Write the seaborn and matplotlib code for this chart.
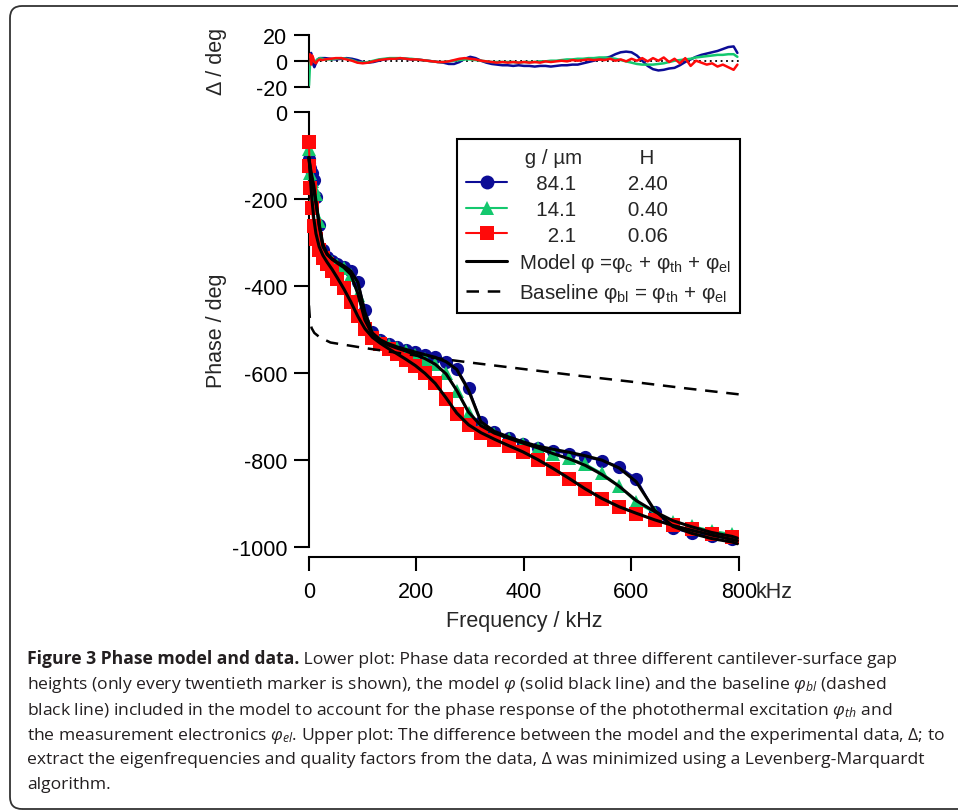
import matplotlib
matplotlib.use('Agg')
import matplotlib.pyplot as plt
import seaborn as sns
from matplotlib.lines import Line2D
from matplotlib.patches import FancyBboxPatch

### phase data, only every twentieth marker (kHz / deg)
freq = [0, 1, 2.5, 5, 9, 13, 19, 26, 34, 43, 53, 65, 78, 91, 104, 118, 133, 148, 164, 181, 198,
        216, 235, 255, 275, 297, 320, 345, 372, 398, 426, 454, 484, 514, 545, 577, 609, 643,
        677, 712, 749, 787]

phase_84 = [-108, -118, -130, -140, -157, -195, -260, -318, -333, -343, -349, -356, -366, -390,
            -455, -507, -525, -533, -540, -547, -552, -558, -564, -574, -590, -635, -712, -736,
            -750, -762, -772, -779, -785, -793, -801, -815, -843, -918, -956, -968, -975, -980]
phase_14 = [-85, -120, -140, -160, -175, -190, -250, -322, -335, -345, -352, -360, -375, -420,
            -475, -512, -528, -536, -543, -550, -558, -567, -580, -600, -642, -692, -722, -739,
            -751, -762, -773, -786, -796, -809, -830, -859, -897, -921, -941, -951, -962, -970]
phase_2 = [-70, -125, -175, -222, -262, -292, -317, -335, -350, -366, -385, -405, -438, -470,
           -500, -520, -533, -545, -557, -570, -583, -600, -622, -660, -695, -720, -738, -753,
           -768, -782, -800, -820, -843, -867, -889, -908, -923, -938, -950, -959, -970, -977]

### model curves
model_freq = freq + [797]
model_84 = [-105, -115, -128, -145, -170, -205, -262, -310, -328, -338, -346, -354, -366, -392,
            -460, -508, -524, -533, -540, -546, -552, -558, -564, -574, -592, -640, -712, -734,
            -747, -758, -768, -775, -782, -790, -800, -818, -850, -915, -952, -968, -980, -988, -992]
model_14 = [-105, -118, -135, -155, -180, -210, -258, -305, -327, -339, -348, -358, -374, -418,
            -478, -512, -527, -536, -543, -550, -558, -567, -580, -602, -640, -690, -721, -738,
            -750, -761, -772, -785, -797, -812, -833, -860, -893, -918, -939, -953, -966, -975, -979]
model_2 = [-105, -120, -150, -195, -245, -280, -310, -330, -346, -362, -382, -407, -437, -470,
           -498, -518, -532, -544, -556, -569, -583, -601, -624, -657, -692, -719, -737, -752,
           -767, -781, -799, -819, -842, -866, -888, -907, -922, -937, -950, -961, -972, -982, -985]

### baseline
base_freq = [0, 2, 5, 10, 20, 40, 100, 200, 300, 400, 500, 600, 700, 800]
base_phase = [-445, -480, -497, -508, -518, -530, -542, -560, -576, -591, -606, -620, -635, -649]

### residuals (data - model)
res_freq = [0, 2, 4, 6, 8, 10, 13, 16, 20, 25, 30, 40, 50, 60, 70, 80, 90, 100, 110, 120, 130,
            140, 150, 160, 170, 180, 190, 200, 210, 220, 230, 240, 250, 260, 270, 280, 290, 300,
            310, 320, 330, 340, 350, 360, 370, 380, 390, 400, 410, 420, 430, 440, 450, 460, 470,
            480, 490, 500, 510, 520, 530, 540, 550, 560, 570, 580, 590, 600, 610, 620, 630, 640,
            650, 660, 670, 680, 690, 700, 710, 720, 730, 740, 750, 760, 770, 780, 790, 797]
res_84 = [0, 3, 6, 2, -3, -5, -2, 1, 2, 2, 2, 1.5, 1, 1.5, 2, 1.5, 0.5, -1, -1.5, -1, 0, 1, 1.5,
          1.5, 1.5, 1.5, 1, 1, 0.5, 0, -0.5, -1, -1.5, -2.5, -2.5, -1, 1.5, 3, 2, 0, -1.5, -2.5,
          -3, -3.5, -3.5, -4, -3.5, -4, -4, -4.5, -4, -4, -4.5, -4, -3.5, -3.5, -3, -3, -2, -1, 0,
          1, 2, 3, 5, 6.5, 7, 6.5, 4, 0, -4, -6.5, -7.5, -7, -6, -5.5, -3.5, -1, 1, 3, 4.5, 5.5,
          6.5, 7.5, 9, 10.5, 11, 6]
res_14 = [-19, -3, 2, 1, 0, -1, 0, 1, 2, 1.5, 1, 1, 1.5, 2, 1.5, 0.5, -1, -1.5, -1, 0, 1, 1.5, 2,
          2, 2, 1.5, 1.5, 1, 0.5, 0, -0.5, -1, -1, -0.5, 0, 0.5, 1, 1, 0.5, 0, -0.5, -1, -1, -1,
          -1, -1, -1.5, -1, -1, -1, -0.5, -0.5, 0, 0, 0.5, 1, 1, 1.5, 1.5, 2, 2, 2.5, 2.5, 2, 1.5,
          0.5, -0.5, -1.5, -2.5, -3, -3, -3, -2.5, -2, -1, 0, 0.5, 1, 1.5, 2.5, 3, 3.5, 4, 4.5,
          4.5, 5, 5, 3]
res_2 = [3, 5, -3, 4, 2, -1, -2, 0, 1, 0.5, 1, 1.5, 2, 2, 1, 0, -1.5, -2, -1.5, -0.5, 0.5, 1, 1.5,
         1.5, 2, 1.5, 1, 1, 0.5, 0, -0.5, -1, -1, -0.5, 0.5, 1.5, 2, 1.5, 1, 0, -0.5, -1, -1.5,
         -1, -1.5, -1, -1.5, -1, -1.5, -1, -1.5, -0.5, -1, -0.5, 0, -0.5, 0.5, 0, 0.5, 1, 0.5, 1,
         0.5, 1.5, 0, 1, -0.5, 1.5, 0, 2, -0.5, 2, 0, 2.5, -1, 1.5, -2, 2, -4, 0, -1.5, -3, -2,
         -4.5, -3, -5, -7, -3]

gaps = ['84.1', '14.1', '2.1']
hvals = ['2.40', '0.40', '0.06']
colors = ['#0c0c96', '#14c86e', '#ff0a0a']
markers = ['o', '^', 's']

sns.set_style('ticks')
plt.rcParams['font.family'] = ['Liberation Sans', 'DejaVu Sans']
plt.rcParams['axes.unicode_minus'] = False
plt.rcParams['mathtext.fontset'] = 'custom'
plt.rcParams['mathtext.rm'] = 'Open Sans'
plt.rcParams['mathtext.it'] = 'Open Sans:italic'
plt.rcParams['axes.linewidth'] = 1.5
plt.rcParams['axes.edgecolor'] = 'black'
plt.rcParams['xtick.color'] = 'black'
plt.rcParams['ytick.color'] = 'black'

FS = 15.5
fig = plt.figure(figsize=(9.58, 8.12), dpi=100)
ax_top = fig.add_axes([0.3225, 0.8920, 0.4489, 0.0640])
ax = fig.add_axes([0.3225, 0.3248, 0.4489, 0.5365])

## lower plot
for ph, c, m, z in zip([phase_84, phase_14, phase_2], colors, markers, [2, 3, 4]):
    sns.lineplot(x=freq, y=ph, color=c, marker=m, markersize=9.5, markeredgewidth=0,
                 lw=1.5, ax=ax, sort=False, estimator=None, clip_on=False, zorder=z)
for mod in [model_84, model_14, model_2]:
    sns.lineplot(x=model_freq, y=mod, color='black', lw=2.2, ax=ax, sort=False,
                 estimator=None, clip_on=False, zorder=6)
sns.lineplot(x=base_freq, y=base_phase, color='black', lw=1.8, linestyle=(0, (5, 3.5)),
             ax=ax, sort=False, estimator=None, zorder=6)

ax.set_xlim(0, 800)
ax.set_ylim(-1000, 0)
ax.set_xticks([0, 200, 400, 600, 800])
ax.set_xticklabels(['0', '200', '400', '600', '800'])
ax.set_yticks([0, -200, -400, -600, -800, -1000])
ax.set_yticklabels(['0', '-200', '-400', '-600', '-800', '-1000'])
ax.tick_params(axis='y', length=10.5, width=1.5, pad=5, labelsize=FS)
ax.tick_params(axis='x', length=10, width=1.5, pad=7, labelsize=FS)
sns.despine(ax=ax)
ax.spines['bottom'].set_position(('outward', 7))
ax.set_xlabel('Frequency / kHz', fontsize=FS, labelpad=6)
ax.set_ylabel('Phase / deg', fontsize=FS)
ax.yaxis.set_label_coords(-0.19, 0.5)
ax.annotate('kHz', xy=(800, 0), xycoords=('data', 'axes fraction'), xytext=(12, -31.5),
            textcoords='offset points', ha='left', va='center', fontsize=FS)

handles = [Line2D([], [], color='none')]
labels = [' g / µm          H']
for c, m, g, h in zip(colors, markers, gaps, hvals):
    handles.append(Line2D([], [], color=c, marker=m, markersize=10, lw=1.5, markeredgewidth=0))
    labels.append(' ' * (3 + 2 * (4 - len(g))) + g + ' ' * 9 + h)
handles.append(Line2D([], [], color='black', lw=2.2))
labels.append(r'Model φ =$\mathregular{φ_c}$ + $\mathregular{φ_{th}}$ + $\mathregular{φ_{el}}$')
handles.append(Line2D([], [], color='black', lw=1.8, linestyle=(0, (5, 3.5))))
labels.append(r'Baseline $\mathregular{φ_{bl}}$ = $\mathregular{φ_{th}}$ + $\mathregular{φ_{el}}$')
leg = ax.legend(handles, labels, loc='upper left', bbox_to_anchor=(0.344, 0.937),
                frameon=True, fancybox=False, edgecolor='black', framealpha=1,
                borderpad=0.45, handlelength=2.0, handletextpad=0.55, labelspacing=0.33,
                borderaxespad=0, prop={'size': 14.8})
leg.get_frame().set_linewidth(1.5)

## upper plot: residuals
ax_top.axhline(0, color='black', lw=1.3, linestyle=(0, (1, 2)), zorder=0)
for r, c, z in zip([res_84, res_14, res_2], colors, [2, 3, 4]):
    sns.lineplot(x=res_freq, y=r, color=c, lw=1.8, ax=ax_top, sort=False,
                 estimator=None, zorder=z)
ax_top.set_xlim(0, 800)
ax_top.set_ylim(-20, 20)
ax_top.set_yticks([20, 0, -20])
ax_top.set_yticklabels(['20', '0', '-20'])
ax_top.set_xticks([])
ax_top.tick_params(axis='y', length=10.5, width=1.5, pad=5, labelsize=FS)
sns.despine(ax=ax_top, bottom=True)
ax_top.set_xlabel('')
ax_top.set_ylabel('Δ / deg', fontsize=FS)
ax_top.yaxis.set_label_coords(-0.19, 0.5)

## frame and caption
frame = FancyBboxPatch((0.10, 0.02), 10.0, 8.03, boxstyle='round,pad=0,rounding_size=0.12',
                       transform=fig.dpi_scale_trans, fill=False, lw=1.3, ec='#333333')
fig.add_artist(frame)

cap_kw = dict(fontsize=12.6, family='Open Sans', color='#231f20', va='baseline', ha='left')
x0 = 27 / 958
base_y = [664, 689, 715, 740, 764, 789]
t = fig.text(x0, 1 - base_y[0] / 812, 'Figure 3 Phase model and data.', weight='bold', **cap_kw)
bb = t.get_window_extent(fig.canvas.get_renderer())
fig.text(bb.x1 / fig.bbox.width, 1 - base_y[0] / 812,
         ' Lower plot: Phase data recorded at three different cantilever-surface gap', **cap_kw)
lines = [
    r'heights (only every twentieth marker is shown), the model $φ$ (solid black line) and the baseline $φ_{bl}$ (dashed',
    r'black line) included in the model to account for the phase response of the photothermal excitation $φ_{th}$ and',
    r'the measurement electronics $φ_{el}$. Upper plot: The difference between the model and the experimental data, Δ; to',
    'extract the eigenfrequencies and quality factors from the data, Δ was minimized using a Levenberg-Marquardt',
    'algorithm.',
]
for y, s in zip(base_y[1:], lines):
    fig.text(x0, 1 - y / 812, s, **cap_kw)

fig.savefig('out.png', dpi=100)
